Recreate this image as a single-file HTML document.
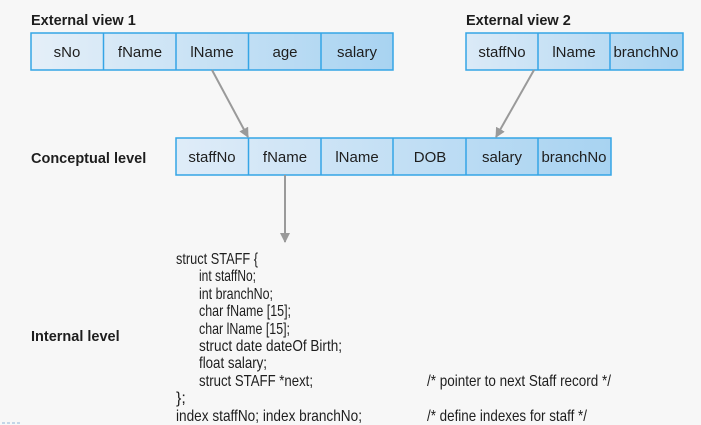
<!DOCTYPE html>
<html><head><meta charset="utf-8"><style>
html,body{margin:0;padding:0;background:#f7f7f7;}
svg{display:block;}
text{font-family:"Liberation Sans",Arial,sans-serif;fill:#1e1e1e;}
.h{font-size:14.5px;font-weight:bold;}
.c{font-size:15px;text-anchor:middle;}
.k{font-size:16px;}
</style></head><body>
<svg width="701" height="425" viewBox="0 0 701 425" xmlns="http://www.w3.org/2000/svg">
<defs>
<linearGradient id="g1" x1="0" x2="1" y1="0" y2="0"><stop offset="0" stop-color="#e5eff8"/><stop offset="1" stop-color="#a8d3f1"/></linearGradient>
<linearGradient id="g2" x1="0" x2="1" y1="0" y2="0"><stop offset="0" stop-color="#dbeaf7"/><stop offset="1" stop-color="#a8d3f1"/></linearGradient>
<linearGradient id="g3" x1="0" x2="1" y1="0" y2="0"><stop offset="0" stop-color="#dfecf8"/><stop offset="1" stop-color="#a8d3f1"/></linearGradient>
<marker id="ar" markerWidth="10" markerHeight="10" refX="9" refY="5" orient="auto" markerUnits="userSpaceOnUse"><path d="M0,0 L10,5 L0,10 z" fill="#9a9a9a"/></marker>
</defs>
<rect width="701" height="425" fill="#f7f7f7"/>

<text class="h" x="31" y="25">External view 1</text>
<text class="h" x="466" y="25">External view 2</text>
<text class="h" x="31" y="163">Conceptual level</text>
<text class="h" x="31" y="341">Internal level</text>

<rect x="31" y="33" width="362" height="37" fill="url(#g1)" stroke="#35a5e6" stroke-width="1.5"/>
<g stroke="#35a5e6" stroke-width="1.5"><line x1="103.5" y1="33" x2="103.5" y2="70"/><line x1="176" y1="33" x2="176" y2="70"/><line x1="248.5" y1="33" x2="248.5" y2="70"/><line x1="321" y1="33" x2="321" y2="70"/></g>
<text class="c" x="67" y="57">sNo</text>
<text class="c" x="140" y="57">fName</text>
<text class="c" x="212" y="57">lName</text>
<text class="c" x="285" y="57">age</text>
<text class="c" x="357" y="57">salary</text>

<rect x="466" y="33" width="217" height="37" fill="url(#g2)" stroke="#35a5e6" stroke-width="1.5"/>
<g stroke="#35a5e6" stroke-width="1.5"><line x1="538" y1="33" x2="538" y2="70"/><line x1="610" y1="33" x2="610" y2="70"/></g>
<text class="c" x="502" y="57">staffNo</text>
<text class="c" x="574" y="57">lName</text>
<text class="c" x="646" y="57">branchNo</text>

<rect x="176" y="138" width="435" height="37" fill="url(#g3)" stroke="#35a5e6" stroke-width="1.5"/>
<g stroke="#35a5e6" stroke-width="1.5"><line x1="248.5" y1="138" x2="248.5" y2="175"/><line x1="321" y1="138" x2="321" y2="175"/><line x1="393" y1="138" x2="393" y2="175"/><line x1="466" y1="138" x2="466" y2="175"/><line x1="538" y1="138" x2="538" y2="175"/></g>
<text class="c" x="212" y="162">staffNo</text>
<text class="c" x="285" y="162">fName</text>
<text class="c" x="357" y="162">lName</text>
<text class="c" x="430" y="162">DOB</text>
<text class="c" x="502" y="162">salary</text>
<text class="c" x="574" y="162">branchNo</text>

<g stroke="#9a9a9a" stroke-width="2" fill="none">
<line x1="212" y1="70" x2="248" y2="137" marker-end="url(#ar)"/>
<line x1="534" y1="70" x2="496" y2="137" marker-end="url(#ar)"/>
<line x1="285" y1="175" x2="285" y2="242" marker-end="url(#ar)"/>
</g>

<text class="k" x="176" y="264" textLength="82" lengthAdjust="spacingAndGlyphs">struct STAFF {</text>
<text class="k" x="199" y="281" textLength="57" lengthAdjust="spacingAndGlyphs">int staffNo;</text>
<text class="k" x="199" y="299" textLength="74" lengthAdjust="spacingAndGlyphs">int branchNo;</text>
<text class="k" x="199" y="316" textLength="92" lengthAdjust="spacingAndGlyphs">char fName [15];</text>
<text class="k" x="199" y="334" textLength="91" lengthAdjust="spacingAndGlyphs">char lName [15];</text>
<text class="k" x="199" y="351" textLength="143" lengthAdjust="spacingAndGlyphs">struct date dateOf Birth;</text>
<text class="k" x="199" y="368" textLength="68" lengthAdjust="spacingAndGlyphs">float salary;</text>
<text class="k" x="199" y="386" textLength="114" lengthAdjust="spacingAndGlyphs">struct STAFF *next;</text>
<text class="k" x="427" y="386" textLength="184" lengthAdjust="spacingAndGlyphs">/* pointer to next Staff record */</text>
<text class="k" x="176" y="403">};</text>
<text class="k" x="176" y="421" textLength="186" lengthAdjust="spacingAndGlyphs">index staffNo; index branchNo;</text>
<text class="k" x="427" y="421" textLength="160" lengthAdjust="spacingAndGlyphs">/* define indexes for staff */</text>

<line x1="2" y1="423" x2="20" y2="423" stroke="#8fb4d8" stroke-width="1" stroke-dasharray="3,2"/>
</svg>
</body></html>
